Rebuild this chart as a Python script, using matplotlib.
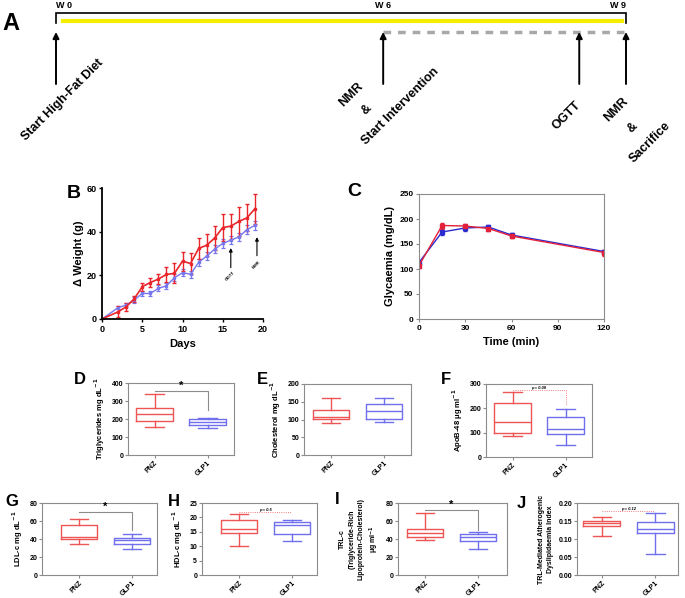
import matplotlib
matplotlib.use("Agg")
import matplotlib.pyplot as plt
from matplotlib.ticker import FormatStrFormatter

plt.rcParams['font.family'] = ['Liberation Sans', 'DejaVu Sans']
plt.rcParams['font.weight'] = 'bold'
plt.rcParams['axes.labelweight'] = 'bold'

W, H = 685, 598

RED = '#e8262b'
BLUE = '#7777ee'
C_RED = '#e3203a'
C_BLUE = '#2a2ad0'
BOX_RED = '#ee5555'
BOX_BLUE = '#7070ee'
GREY = '#8c8c8c'

# --- A : timeline (position in % of the W0-W9 line) ---
week_labels = ['W 0', 'W 6', 'W 9']
week_pos = [0, 57.4, 100]
event_pos = [0, 57.4, 91.8, 100]
# (text, event index, x offset, y pixel)
event_labels = [
    ('Start High-Fat Diet', 0, 1.1, 100),
    ('NMR', 1, -5.6, 95),
    ('&', 1, -3.0, 110),
    ('Start Intervention', 1, 3.1, 106),
    ('OGTT', 2, -2.2, 116),
    ('NMR', 3, -1.8, 110),
    ('&', 3, 1.2, 128),
    ('Sacrifice', 3, 4.2, 142),
]

# --- B : body weight gain ---
days = [0, 2, 3, 4, 5, 6, 7, 8, 9, 10, 11, 12, 13, 14, 15, 16, 17, 18, 19]
w_pnz = [0, 3.3, 5.6, 9.2, 14.8, 16.7, 18.3, 20.4, 20.9, 26.5, 25.4, 32.3,
         33.8, 37.1, 41.9, 42.5, 44.7, 46.3, 50.5]
w_pnz_err = [0, 2.5, 1.8, 1.2, 1.8, 2.1, 2.1, 3.3, 4.6, 4.3, 4.8, 4.9,
             5.1, 5.5, 6.1, 5.8, 6.8, 6.2, 6.8]
w_glp = [0, 5.2, 6.4, 8.7, 11.7, 11.7, 14.0, 15.2, 18.9, 21.2, 20.5, 25.9,
         28.8, 32.0, 34.6, 36.1, 37.6, 40.9, 42.9]
w_glp_err = [0, 0.8, 1.0, 1.2, 1.3, 1.3, 1.4, 1.5, 1.6, 1.6, 1.7, 1.7,
             1.8, 1.8, 1.9, 1.9, 2.0, 2.0, 2.0]

# --- C : OGTT ---
ogtt_t = [0, 15, 30, 45, 60, 120]
gly_glp = [113, 174, 182, 184, 168, 135]
gly_glp_err = [4, 5, 5, 4, 4, 4]
gly_pnz = [107, 187, 186, 181, 166, 133]
gly_pnz_err = [4, 6, 5, 4, 4, 6]

# --- D-J : box plots (whislo, q1, med, q3, whishi) ---
groups = ['PNZ', 'GLP1']
tg_pnz = [154, 191, 226, 260, 339]
tg_glp = [149, 167, 186, 199, 208]
chol_pnz = [90, 101, 106, 128, 160]
chol_glp = [92, 101, 124, 143, 161]
apob_pnz = [86, 97, 145, 221, 267]
apob_glp = [48, 93, 115, 164, 196]
ldl_pnz = [34, 39.5, 41.7, 56, 62.5]
ldl_glp = [28.4, 34, 38.7, 41, 46]
hdl_pnz = [10, 14.7, 16.1, 19.2, 21.1]
hdl_glp = [11.9, 14.2, 17.5, 18.4, 19.2]
trl_pnz = [38.7, 41.7, 47, 51, 69]
trl_glp = [28.4, 37.6, 42.4, 46, 48]
tmdi_pnz = [0.109, 0.137, 0.144, 0.151, 0.161]
tmdi_glp = [0.059, 0.118, 0.127, 0.146, 0.172]

fig = plt.figure(figsize=(W / 100, H / 100), dpi=100)


def px_axes(l, t, r, b):
    return fig.add_axes([l / W, 1 - b / H, (r - l) / W, (b - t) / H])


def letter(x, y, s, size=14):
    fig.text(x / W, 1 - y / H, s, fontsize=size, fontweight='bold',
             ha='center', va='center')


# ---------------- A ----------------
axA = px_axes(0, 0, W, 170)
scale = 5.7  # pixels per timeline unit
x0 = 56
axA.set_xlim(-x0 / scale, (W - x0) / scale)
axA.set_ylim(170, 0)
axA.axis('off')

axA.plot([week_pos[0], week_pos[0], week_pos[-1], week_pos[-1]], [23, 13, 13, 23],
         color='k', lw=1.2, solid_joinstyle='miter')
axA.plot([week_pos[0] + 1.2, week_pos[-1] - 0.7], [21, 21], color='#f4ee00', lw=3)
axA.plot([week_pos[1], week_pos[-1]], [31.5, 31.5], color='#a8a8a8', lw=2.5,
         dashes=(2.2, 2.0))
for i, (lab, p) in enumerate(zip(week_labels, week_pos)):
    ha = ['left', 'center', 'right'][i]
    axA.text(p, 6, lab, fontsize=6.5, fontweight='bold', ha=ha, va='center')
for p in event_pos:
    axA.annotate('', xy=(p, 32), xytext=(p, 84),
                 arrowprops=dict(arrowstyle='-|>', color='k', lw=1.4,
                                 mutation_scale=9, shrinkA=0, shrinkB=0))
for txt, ei, dx, y in event_labels:
    axA.text(event_pos[ei] + dx, y, txt, rotation=45, rotation_mode='anchor',
             fontsize=9, fontweight='bold', ha='center', va='center')
letter(11, 23, 'A', 17)

# ---------------- B ----------------
axB = px_axes(102, 188, 263, 319)
axB.errorbar(days, w_glp, yerr=w_glp_err, color=BLUE, marker='s', ms=2,
             lw=1.0, elinewidth=0.9, capsize=1.5, capthick=0.9)
axB.errorbar(days, w_pnz, yerr=w_pnz_err, color=RED, marker='s', ms=2,
             lw=1.2, elinewidth=1.0, capsize=1.5, capthick=1.0)
axB.set_xlim(0, 20)
axB.set_ylim(0, 60)
axB.set_xticks([0, 5, 10, 15, 20])
axB.set_yticks([0, 20, 40, 60])
for s in ['top', 'right']:
    axB.spines[s].set_visible(False)
for s in ['left', 'bottom']:
    axB.spines[s].set_linewidth(1.3)
axB.tick_params(labelsize=6.5, length=2.5, width=1.0, pad=1.5)
axB.set_xlabel('Days', fontsize=8, labelpad=4)
axB.set_ylabel('Δ Weight (g)', fontsize=8, labelpad=2)
axB.annotate('', xy=(16, 32.5), xytext=(16, 23.5),
             arrowprops=dict(arrowstyle='-|>', color='k', lw=0.8, mutation_scale=5,
                             shrinkA=0, shrinkB=0))
axB.annotate('', xy=(19.25, 37.5), xytext=(19.25, 29),
             arrowprops=dict(arrowstyle='-|>', color='k', lw=0.8, mutation_scale=5,
                             shrinkA=0, shrinkB=0))
axB.text(16, 19.8, 'OGTT', rotation=45, fontsize=3.2, ha='center', va='center')
axB.text(19.25, 25, 'NMR', rotation=45, fontsize=3.2, ha='center', va='center')
letter(74, 194, 'B', 14)

# ---------------- C ----------------
axC = px_axes(419, 194, 604, 319)
axC.errorbar(ogtt_t, gly_glp, yerr=gly_glp_err, color=C_BLUE, marker='s', ms=2.2,
             lw=1.0, elinewidth=1.0, capsize=1.5)
axC.errorbar(ogtt_t, gly_pnz, yerr=gly_pnz_err, color=C_RED, marker='s', ms=2.2,
             lw=1.0, elinewidth=1.0, capsize=1.5)
axC.set_xlim(0, 120)
axC.set_ylim(0, 250)
axC.set_xticks([0, 30, 60, 90, 120])
axC.set_yticks([0, 50, 100, 150, 200, 250])
for s in axC.spines.values():
    s.set_color(GREY)
axC.tick_params(labelsize=6, length=2.5, pad=1.5, color=GREY)
axC.set_xlabel('Time (min)', fontsize=8, labelpad=4)
axC.set_ylabel('Glycaemia (mg/dL)', fontsize=8, labelpad=3)
letter(354, 191, 'C', 14)


# ---------------- D-J ----------------
def box_panel(box, xlim, pnz, glp, ylim, yticks, ylabel, lab, lab_xy,
              fmt=None, sig=None, pval=None, ylab_size=5.5):
    ax = px_axes(*box)
    stats = []
    for name, v in zip(groups, [pnz, glp]):
        stats.append(dict(label=name, whislo=v[0], q1=v[1], med=v[2],
                          q3=v[3], whishi=v[4], fliers=[]))
    art = ax.bxp(stats, positions=[0, 1], widths=0.68, capwidths=0.34,
                 showfliers=False, patch_artist=False)
    for i, c in enumerate([BOX_RED, BOX_BLUE]):
        art['boxes'][i].set(color=c, lw=1.0)
        art['medians'][i].set(color=c, lw=1.0)
        for k in (2 * i, 2 * i + 1):
            art['whiskers'][k].set(color=c, lw=1.0)
            art['caps'][k].set(color=c, lw=1.0)
    ax.set_xlim(*xlim)
    ax.set_ylim(*ylim)
    ax.set_yticks(yticks)
    if fmt:
        ax.yaxis.set_major_formatter(FormatStrFormatter(fmt))
    ax.set_xticks([0, 1])
    ax.set_xticklabels(groups, rotation=45, ha='right', rotation_mode='anchor')
    for s in ax.spines.values():
        s.set_color(GREY)
    ax.tick_params(labelsize=5, length=2, pad=1.5, color=GREY)
    ax.set_ylabel(ylabel, fontsize=ylab_size, labelpad=3, linespacing=1.4)
    if sig:
        y1, y2 = sig
        ax.plot([0, 1, 1], [y1, y1, y2], color=GREY, lw=0.8)
        ax.text(0.5, y1, '*', fontsize=8, ha='center', va='bottom')
    if pval:
        txt, y1, y2 = pval
        ax.plot([0, 1], [y1, y1], color=BOX_RED, lw=0.6, ls=':')
        if y2 is not None:
            ax.plot([1, 1], [y1, y2], color=BOX_RED, lw=0.6, ls=':')
        ax.text(0.5, y1, txt, fontsize=3, style='italic', ha='center', va='bottom')
    letter(lab_xy[0], lab_xy[1], lab, 12)
    return ax


box_panel((128, 383, 234, 455), (-0.5, 1.5), tg_pnz, tg_glp, (0, 400),
          [0, 100, 200, 300, 400], 'Triglycerides mg dL$^{-1}$', 'D', (80, 379),
          sig=(358, 251))
box_panel((304, 384, 411, 455), (-0.5, 1.5), chol_pnz, chol_glp, (0, 200),
          [0, 50, 100, 150, 200], 'Cholesterol mg dL$^{-1}$', 'E', (262, 379))
box_panel((486, 384, 592, 457), (-0.5, 1.5), apob_pnz, apob_glp, (0, 300),
          [0, 100, 200, 300], 'ApoB-48 μg ml$^{-1}$', 'F', (446, 380),
          pval=('p = 0.08', 275, 214))
box_panel((42, 503, 157, 575), (-0.7, 1.47), ldl_pnz, ldl_glp, (0, 80),
          [0, 20, 40, 60, 80], 'LDL-c mg dL$^{-1}$', 'G', (12, 502),
          sig=(70, 49.7))
box_panel((202, 503, 317, 575), (-0.7, 1.47), hdl_pnz, hdl_glp, (0, 25),
          [0, 5, 10, 15, 20, 25], 'HDL-c mg dL$^{-1}$', 'H', (174, 501),
          pval=('p = 0.5', 21.9, None))
box_panel((398, 503, 507, 575), (-0.5, 1.55), trl_pnz, trl_glp, (0, 80),
          [0, 20, 40, 60, 80],
          'TRL-c\n(Triglyceride-Rich\nLipoprotein-Cholesterol)\nμg ml$^{-1}$',
          'I', (337, 500), sig=(72.6, 49.7), ylab_size=5)
box_panel((577, 503, 678, 575), (-0.46, 1.42), tmdi_pnz, tmdi_glp, (0, 0.20),
          [0, 0.05, 0.10, 0.15, 0.20],
          'TRL-Mediated Atherogenic\nDyslipidaemia Index', 'J', (521, 503),
          fmt='%.2f', pval=('p = 0.12', 0.177, None), ylab_size=5)

fig.savefig('out.png', dpi=100)
